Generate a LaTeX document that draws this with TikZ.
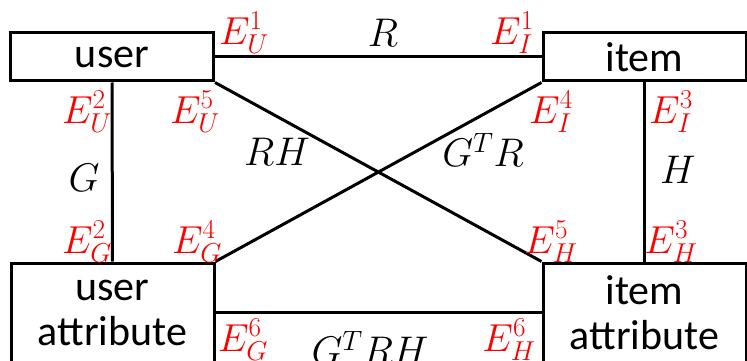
\RequirePackage{fix-cm}
\documentclass[tikz,border=0pt]{standalone}
\usepackage{fontspec}
\setmainfont{Carlito}
\begin{document}
\begin{tikzpicture}[x=1pt,y=-1pt,
  ent/.style={draw=black,line width=3pt,rectangle,inner sep=0pt,minimum width=203pt,font=\fontsize{42}{45}\selectfont,align=center},
  conn/.style={line width=3pt,line cap=butt},
  elab/.style={text=red,inner sep=0pt,font=\fontsize{39}{41}\selectfont},
  rlab/.style={text=black,inner sep=0pt,font=\fontsize{40}{42}\selectfont}]
\useasboundingbox (0,0) rectangle (747,361);
\clip (0,0) rectangle (747,361);
\node[ent,minimum height=48pt] (user) at (112,57) {user};
\node[ent,minimum height=48pt] (item) at (644.5,57) {item};
\node[ent,minimum height=99pt] (uattr) at (112.5,312.5) {user\\attribute};
\node[ent,minimum height=99pt] (iattr) at (644.5,312.5) {item\\attribute};
\draw[conn] (user.east) -- (item.west);
\draw[conn] (user.south) -- (uattr.north);
\draw[conn] (item.south) -- (iattr.north);
\draw[conn] (uattr.east) -- (iattr.west);
\draw[conn] (user.south east) -- (iattr.north west);
\draw[conn] (uattr.north east) -- (item.south west);
\node[rlab] (lR) at (383,33) {$R$};
\node[rlab] (lG) at (84,178) {$G$};
\node[rlab] (lH) at (678,170) {$H$};
\node[rlab] (lRH) at (277,152) {$RH$};
\node[rlab] (lGTR) at (483,150) {$G^T R$};
\node[rlab] (lGTRH) at (370,348) {$G^T RH$};
\node[elab] (eU1) at (244,33) {$E_U^1$};
\node[elab] (eI1) at (512,33) {$E_I^1$};
\node[elab] (eU2) at (87,112) {$E_U^2$};
\node[elab] (eU5) at (195,112) {$E_U^5$};
\node[elab] (eI4) at (551,112) {$E_I^4$};
\node[elab] (eI3) at (671,112) {$E_I^3$};
\node[elab] (eG2) at (87,242) {$E_G^2$};
\node[elab] (eG4) at (197,242) {$E_G^4$};
\node[elab] (eH5) at (551,242) {$E_H^5$};
\node[elab] (eH3) at (671,242) {$E_H^3$};
\node[elab] (eG6) at (243,340) {$E_G^6$};
\node[elab] (eH6) at (509,340) {$E_H^6$};
\end{tikzpicture}
\end{document}
